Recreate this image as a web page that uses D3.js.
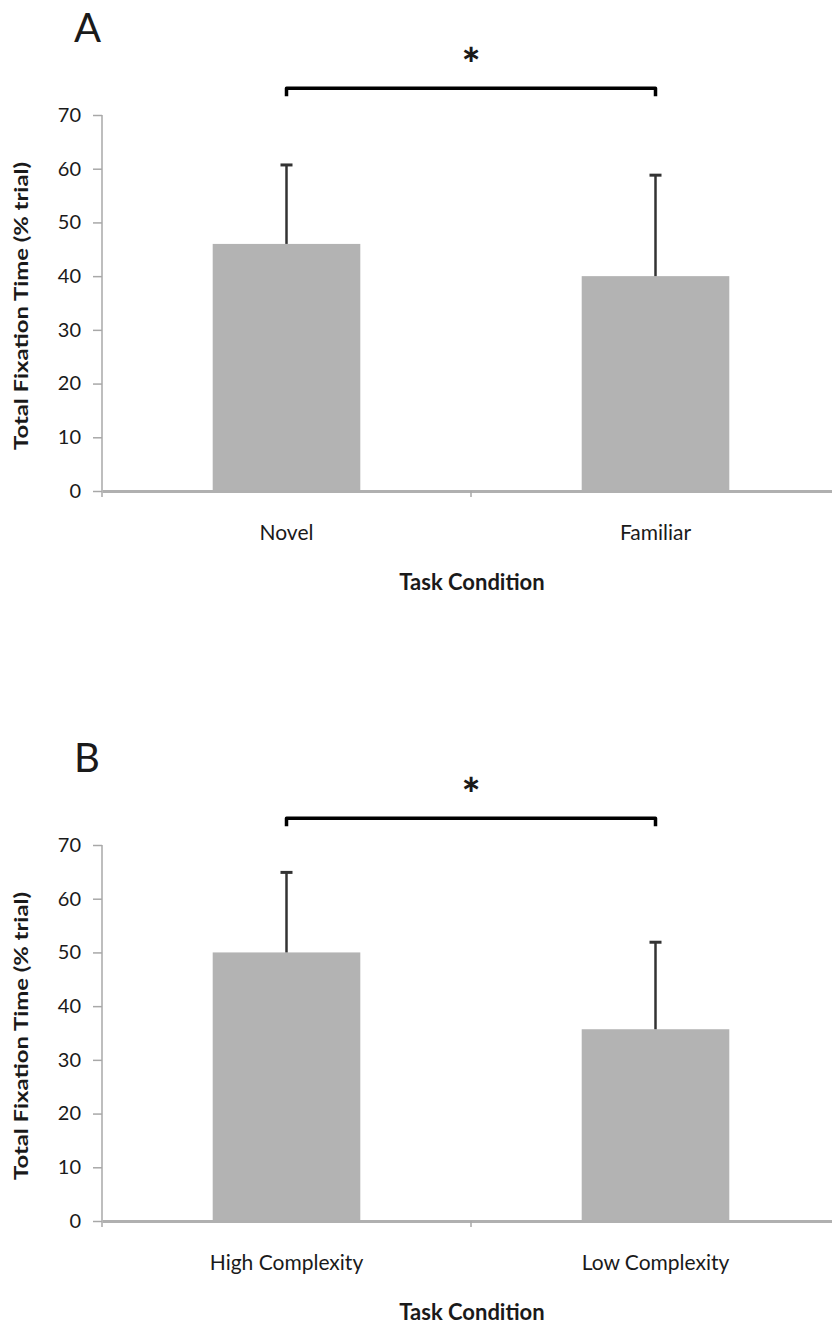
<!DOCTYPE html>
<html>
<head>
<meta charset="utf-8">
<script src="https://cdn.jsdelivr.net/npm/d3@7"></script>
<style>
  body { margin: 0; background: #fff; }
  text { font-family: Lato, "Open Sans", sans-serif; fill: #1a1a1a; }
</style>
</head>
<body>
<svg width="832" height="1325"></svg>
<script>
// panel A
var catsA = ["Novel", "Familiar"];
var meansA = [46, 40];
var sdsA = [14.7, 18.8];

// panel B
var catsB = ["High Complexity", "Low Complexity"];
var meansB = [50, 35.7];
var sdsB = [14.9, 16.2];

var yTicks = [0, 10, 20, 30, 40, 50, 60, 70];
var sigLevel = 75;

var svg = d3.select("svg");

function panel(top, letter, cats, means, sds) {
    var g = svg.append("g").attr("transform", "translate(0," + top + ")");

    var xScale = d3.scaleBand().domain(cats).range([102, 840]).paddingInner(0.6).paddingOuter(0.3);
    var yScale = d3.scaleLinear().domain([0, 70]).range([491, 115]);

    // panel letter
    g.append("text").attr("x", 74).attr("y", 42)
        .style("font-size", "40px").text(letter);

    // y axis
    var yAxis = d3.axisLeft(yScale).tickValues(yTicks).tickSize(9).tickPadding(12).tickSizeOuter(0);
    var yG = g.append("g").attr("transform", "translate(102,0)").call(yAxis);
    yG.select(".domain").remove();
    yG.selectAll(".tick line").attr("stroke", "#a8a8a8").attr("stroke-width", 1.5);
    yG.selectAll(".tick text").style("font-size", "20px").style("font-family", "Lato, sans-serif").attr("fill", "#1a1a1a");
    yG.append("line").attr("x1", 0).attr("x2", 0)
        .attr("y1", yScale(70)).attr("y2", yScale(0) + 6)
        .attr("stroke", "#a8a8a8").attr("stroke-width", 1.5);

    // bars
    g.selectAll("rect.bar").data(means).enter().append("rect").attr("class", "bar")
        .attr("x", function (d, i) { return xScale(cats[i]) })
        .attr("width", xScale.bandwidth())
        .attr("y", function (d) { return yScale(d) })
        .attr("height", function (d) { return yScale(0) - yScale(d) })
        .attr("fill", "#b3b3b3");

    // x axis
    var xAxis = d3.axisBottom(xScale).tickSize(0).tickPadding(34);
    var xG = g.append("g").attr("transform", "translate(0," + yScale(0) + ")").call(xAxis);
    xG.select(".domain").attr("stroke", "#b0b0b0").attr("stroke-width", 3);
    xG.selectAll(".tick text").style("font-size", "21px").style("font-family", "Lato, sans-serif").attr("fill", "#1a1a1a");
    var mid = xScale(cats[1]) - xScale.step() * xScale.paddingInner() / 2;
    xG.append("line").attr("x1", mid).attr("x2", mid).attr("y1", 0).attr("y2", 6)
        .attr("stroke", "#a8a8a8").attr("stroke-width", 1.5);

    // error bars
    var cx = function (i) { return xScale(cats[i]) + xScale.bandwidth() / 2 };
    g.selectAll("line.err").data(means).enter().append("line").attr("class", "err")
        .attr("x1", function (d, i) { return cx(i) }).attr("x2", function (d, i) { return cx(i) })
        .attr("y1", function (d) { return yScale(d) })
        .attr("y2", function (d, i) { return yScale(d + sds[i]) })
        .attr("stroke", "#333").attr("stroke-width", 2.5);
    g.selectAll("line.cap").data(means).enter().append("line").attr("class", "cap")
        .attr("x1", function (d, i) { return cx(i) - 6 }).attr("x2", function (d, i) { return cx(i) + 6 })
        .attr("y1", function (d, i) { return yScale(d + sds[i]) })
        .attr("y2", function (d, i) { return yScale(d + sds[i]) })
        .attr("stroke", "#333").attr("stroke-width", 3);

    // significance bracket
    var sy = yScale(sigLevel);
    g.append("path")
        .attr("d", "M" + cx(0) + "," + (sy + 8) + "V" + sy + "H" + cx(1) + "V" + (sy + 8))
        .attr("fill", "none").attr("stroke", "#000").attr("stroke-width", 3.5)
        .attr("stroke-linejoin", "round");
    g.append("text").attr("x", (cx(0) + cx(1)) / 2).attr("y", sy - 8)
        .attr("text-anchor", "middle").style("font-size", "44px").style("font-weight", "900")
        .text("*");

    // axis titles
    g.append("text").attr("transform", "translate(28,306) rotate(-90)")
        .attr("text-anchor", "middle").style("font-size", "19px").style("font-weight", "bold")
        .attr("textLength", 288).attr("lengthAdjust", "spacingAndGlyphs")
        .text("Total Fixation Time (% trial)");
    g.append("text").attr("x", 472).attr("y", 590)
        .attr("text-anchor", "middle").style("font-size", "22px").style("font-weight", "bold")
        .text("Task Condition");
}

panel(0, "A", catsA, meansA, sdsA);
panel(730, "B", catsB, meansB, sdsB);
</script>
</body>
</html>
